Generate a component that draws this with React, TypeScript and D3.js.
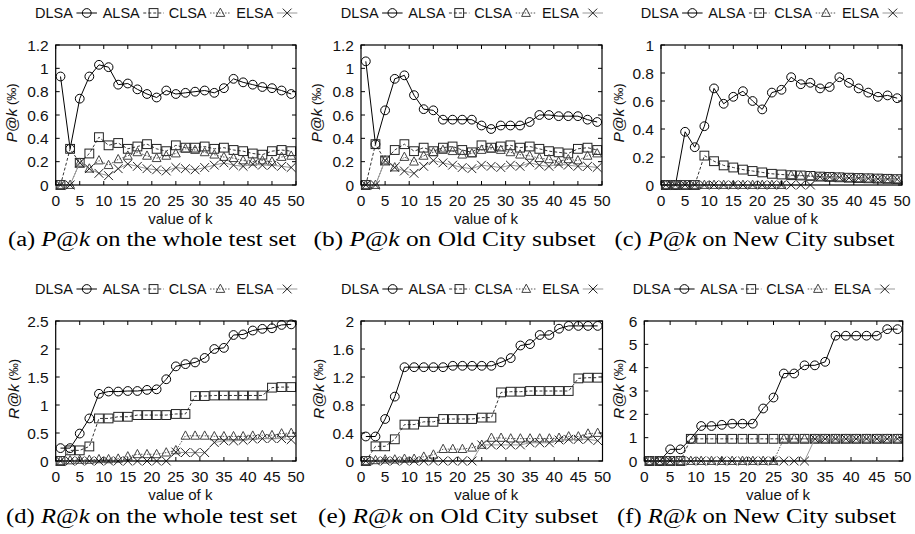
import React from "react";
import * as d3 from "d3";

// ---------- data ----------
const kValues = [1, 3, 5, 7, 9, 11, 13, 15, 17, 19, 21, 23, 25, 27, 29, 31, 33, 35, 37, 39, 41, 43, 45, 47, 49];
const methods = ["DLSA", "ALSA", "CLSA", "ELSA"];
const xTicks = [0, 5, 10, 15, 20, 25, 30, 35, 40, 45, 50];

// (a) P@k whole test set
const pWholeDLSA = [0.93, 0.31, 0.74, 0.93, 1.03, 1.01, 0.86, 0.87, 0.82, 0.78, 0.75, 0.81, 0.78, 0.79, 0.80, 0.81, 0.79, 0.83, 0.91, 0.88, 0.86, 0.84, 0.83, 0.81, 0.78];
const pWholeALSA = [0, 0.31, 0.19, 0.27, 0.41, 0.34, 0.36, 0.31, 0.33, 0.35, 0.31, 0.29, 0.34, 0.32, 0.32, 0.33, 0.31, 0.32, 0.30, 0.29, 0.27, 0.26, 0.29, 0.30, 0.29];
const pWholeCLSA = [0, 0, 0.19, 0.14, 0.21, 0.17, 0.22, 0.25, 0.28, 0.25, 0.23, 0.25, 0.27, 0.31, 0.30, 0.28, 0.26, 0.24, 0.23, 0.21, 0.20, 0.21, 0.20, 0.24, 0.25];
const pWholeELSA = [0, 0, 0.19, 0.14, 0.10, 0.08, 0.14, 0.18, 0.16, 0.14, 0.13, 0.12, 0.15, 0.14, 0.13, 0.15, 0.17, 0.19, 0.17, 0.16, 0.18, 0.17, 0.17, 0.16, 0.15];

// (b) P@k Old City
const pOldDLSA = [1.06, 0.35, 0.64, 0.91, 0.94, 0.77, 0.65, 0.64, 0.56, 0.56, 0.56, 0.56, 0.51, 0.48, 0.51, 0.51, 0.51, 0.54, 0.60, 0.60, 0.59, 0.59, 0.59, 0.56, 0.54];
const pOldALSA = [0, 0.35, 0.21, 0.30, 0.35, 0.29, 0.32, 0.29, 0.32, 0.33, 0.30, 0.28, 0.34, 0.32, 0.33, 0.34, 0.32, 0.33, 0.31, 0.29, 0.28, 0.27, 0.31, 0.32, 0.30];
const pOldCLSA = [0, 0, 0.21, 0.15, 0.24, 0.20, 0.25, 0.28, 0.30, 0.29, 0.26, 0.27, 0.30, 0.31, 0.30, 0.28, 0.26, 0.25, 0.23, 0.22, 0.20, 0.22, 0.21, 0.25, 0.27];
const pOldELSA = [0, 0, 0.21, 0.15, 0.12, 0.10, 0.16, 0.21, 0.19, 0.17, 0.15, 0.14, 0.17, 0.16, 0.15, 0.17, 0.16, 0.19, 0.17, 0.16, 0.18, 0.17, 0.16, 0.16, 0.15];

// (c) P@k New City
const pNewDLSA = [0, 0, 0.38, 0.27, 0.42, 0.69, 0.58, 0.63, 0.67, 0.60, 0.54, 0.66, 0.68, 0.77, 0.72, 0.73, 0.69, 0.70, 0.77, 0.73, 0.69, 0.66, 0.63, 0.64, 0.62];
const pNewALSA = [0, 0, 0, 0, 0.21, 0.17, 0.14, 0.125, 0.11, 0.10, 0.09, 0.08, 0.075, 0.07, 0.068, 0.065, 0.06, 0.058, 0.055, 0.052, 0.05, 0.048, 0.046, 0.044, 0.042];
const pNewCLSA = [0, 0, 0, 0, 0, 0, 0, 0, 0, 0, 0, 0, 0, 0.07, 0.066, 0.062, 0.058, 0.056, 0.054, 0.05, 0.048, 0.046, 0.044, 0.042, 0.04];
const pNewELSA = [0, 0, 0, 0, 0, 0, 0, 0, 0, 0, 0, 0, 0, 0, 0, 0, 0.058, 0.056, 0.054, 0.05, 0.048, 0.046, 0.044, 0.042, 0.04];

// (d) R@k whole test set
const rWholeDLSA = [0.23, 0.23, 0.49, 0.76, 1.20, 1.24, 1.24, 1.25, 1.25, 1.27, 1.28, 1.46, 1.69, 1.73, 1.76, 1.84, 2.00, 2.02, 2.25, 2.26, 2.33, 2.36, 2.37, 2.43, 2.44];
const rWholeALSA = [0, 0.19, 0.19, 0.26, 0.76, 0.76, 0.79, 0.79, 0.82, 0.82, 0.82, 0.82, 0.84, 0.84, 1.16, 1.16, 1.17, 1.17, 1.17, 1.17, 1.17, 1.17, 1.31, 1.32, 1.32];
const rWholeCLSA = [0, 0.01, 0.02, 0.02, 0.03, 0.03, 0.04, 0.08, 0.12, 0.12, 0.12, 0.15, 0.19, 0.45, 0.45, 0.45, 0.44, 0.44, 0.44, 0.44, 0.45, 0.46, 0.46, 0.49, 0.50];
const rWholeELSA = [0, 0, 0, 0, 0, 0, 0, 0, 0, 0, 0, 0, 0.16, 0.15, 0.15, 0.15, 0.33, 0.36, 0.36, 0.37, 0.39, 0.40, 0.40, 0.40, 0.38];

// (e) R@k Old City
const rOldDLSA = [0.35, 0.35, 0.60, 0.92, 1.34, 1.34, 1.34, 1.34, 1.34, 1.36, 1.36, 1.36, 1.36, 1.36, 1.41, 1.47, 1.65, 1.67, 1.80, 1.80, 1.89, 1.93, 1.93, 1.93, 1.93];
const rOldALSA = [0, 0.21, 0.21, 0.31, 0.52, 0.52, 0.56, 0.56, 0.60, 0.60, 0.60, 0.60, 0.62, 0.62, 0.98, 0.99, 0.99, 1.00, 1.00, 1.00, 1.00, 1.00, 1.18, 1.19, 1.19];
const rOldCLSA = [0, 0.01, 0.02, 0.02, 0.03, 0.03, 0.06, 0.09, 0.17, 0.17, 0.17, 0.19, 0.23, 0.33, 0.33, 0.32, 0.32, 0.32, 0.32, 0.32, 0.33, 0.35, 0.35, 0.39, 0.40];
const rOldELSA = [0, 0, 0, 0, 0, 0, 0, 0, 0, 0, 0, 0, 0.23, 0.23, 0.23, 0.23, 0.23, 0.26, 0.26, 0.26, 0.30, 0.31, 0.31, 0.31, 0.29];

// (f) R@k New City
const rNewDLSA = [0, 0, 0.5, 0.5, 0.95, 1.5, 1.5, 1.55, 1.6, 1.6, 1.6, 2.25, 2.72, 3.75, 3.75, 4.1, 4.1, 4.25, 5.37, 5.37, 5.37, 5.37, 5.37, 5.65, 5.65];
const rNewALSA = [0, 0, 0, 0, 0.95, 0.95, 0.95, 0.95, 0.95, 0.95, 0.95, 0.95, 0.95, 0.95, 0.95, 0.95, 0.95, 0.95, 0.95, 0.95, 0.95, 0.95, 0.95, 0.95, 0.95];
const rNewCLSA = [0, 0, 0, 0, 0, 0, 0, 0, 0, 0, 0, 0, 0, 0.95, 0.95, 0.95, 0.95, 0.95, 0.95, 0.95, 0.95, 0.95, 0.95, 0.95, 0.95];
const rNewELSA = [0, 0, 0, 0, 0, 0, 0, 0, 0, 0, 0, 0, 0, 0, 0, 0, 0.95, 0.95, 0.95, 0.95, 0.95, 0.95, 0.95, 0.95, 0.95];

const yTicksA = [0, 0.2, 0.4, 0.6, 0.8, 1, 1.2];
const yTicksC = [0, 0.2, 0.4, 0.6, 0.8, 1];
const yTicksD = [0, 0.5, 1, 1.5, 2, 2.5];
const yTicksE = [0, 0.4, 0.8, 1.2, 1.6, 2];
const yTicksF = [0, 1, 2, 3, 4, 5, 6];

const captions = [
  { tag: "(a)", metric: "P", rest: " on the whole test set" },
  { tag: "(b)", metric: "P", rest: " on Old City subset" },
  { tag: "(c)", metric: "P", rest: " on New City subset" },
  { tag: "(d)", metric: "R", rest: " on the whole test set" },
  { tag: "(e)", metric: "R", rest: " on Old City subset" },
  { tag: "(f)", metric: "R", rest: " on New City subset" },
];

// ---------- layout / style ----------
const SANS = "'Liberation Sans', Arial, Helvetica, sans-serif";
const SERIF = "'Liberation Serif', 'Times New Roman', serif";

const panels = [
  { series: [pWholeDLSA, pWholeALSA, pWholeCLSA, pWholeELSA], yTicks: yTicksA, l: 55.7, r: 296, t: 45, b: 185, ylOff: 45, capX: 152, capY: 246, capW: 288 },
  { series: [pOldDLSA, pOldALSA, pOldCLSA, pOldELSA], yTicks: yTicksA, l: 361, r: 602, t: 45, b: 185, ylOff: 45, capX: 454.5, capY: 246, capW: 282 },
  { series: [pNewDLSA, pNewALSA, pNewCLSA, pNewELSA], yTicks: yTicksC, l: 661, r: 902, t: 45, b: 185, ylOff: 43, capX: 754.5, capY: 246, capW: 280 },
  { series: [rWholeDLSA, rWholeALSA, rWholeCLSA, rWholeELSA], yTicks: yTicksD, l: 55.7, r: 296, t: 321, b: 461, ylOff: 43, capX: 151.5, capY: 523, capW: 291 },
  { series: [rOldDLSA, rOldALSA, rOldCLSA, rOldELSA], yTicks: yTicksE, l: 361, r: 602.5, t: 321, b: 461, ylOff: 43, capX: 458, capY: 523, capW: 280 },
  { series: [rNewDLSA, rNewALSA, rNewCLSA, rNewELSA], yTicks: yTicksF, l: 644.3, r: 902.7, t: 321, b: 461, ylOff: 26, capX: 756.5, capY: 523, capW: 279 },
];

const styles = [
  { line: "#000", dash: "", marker: "circle", mstroke: "#000" },
  { line: "#333", dash: "3,2", marker: "square", mstroke: "#222" },
  { line: "#555", dash: "1.5,1.5", marker: "triangle", mstroke: "#444" },
  { line: "#999", dash: "", marker: "cross", mstroke: "#222" },
];

function Marker({ kind, x, y, stroke }: { kind: string; x: number; y: number; stroke: string }) {
  const s = 4.4;
  if (kind === "circle") return <circle cx={x} cy={y} r={s} fill="none" stroke={stroke} strokeWidth={1} />;
  if (kind === "square") return <rect x={x - s} y={y - s} width={2 * s} height={2 * s} fill="none" stroke={stroke} strokeWidth={1} />;
  if (kind === "triangle")
    return <path d={`M${x},${y - s - 0.5}L${x + s},${y + s - 1}L${x - s},${y + s - 1}Z`} fill="none" stroke={stroke} strokeWidth={1} />;
  return <path d={`M${x - s},${y - s}L${x + s},${y + s}M${x - s},${y + s}L${x + s},${y - s}`} fill="none" stroke={stroke} strokeWidth={1} />;
}

function Panel({ p, idx }: { p: any; idx: number }) {
  const yMax = p.yTicks[p.yTicks.length - 1];
  const x = d3.scaleLinear().domain([0, 50]).range([p.l, p.r]);
  const y = d3.scaleLinear().domain([0, yMax]).range([p.b, p.t]);
  const line = d3
    .line<number>()
    .x((_, i) => x(kValues[i]))
    .y((v) => y(v));
  const cx = (p.l + p.r) / 2;
  const cy = (p.t + p.b) / 2;
  const metric = captions[idx].metric;
  const tl = 4;

  // legend
  const legL = cx - 5.3 - 131;
  const legY = p.t - 32;

  return (
    <g>
      {/* legend */}
      {methods.map((m, i) => {
        const te = legL + 33.4 + 66.8 * i;
        const st = styles[i];
        return (
          <g key={m}>
            <text x={te} y={legY} textAnchor="end" dominantBaseline="central" fontFamily={SANS} fontSize={14.5} fill="#111">
              {m}
            </text>
            <line x1={te + 3.5} x2={te + 24} y1={legY} y2={legY} stroke={st.line} strokeWidth={1} strokeDasharray={st.dash} />
            <Marker kind={st.marker} x={te + 13.8} y={legY} stroke={st.mstroke} />
          </g>
        );
      })}

      {/* series */}
      {p.series.map((vals: number[], i: number) => {
        const st = styles[i];
        return (
          <g key={i}>
            <path d={line(vals) || ""} fill="none" stroke={st.line} strokeWidth={1} strokeDasharray={st.dash} />
            {vals.map((v, j) => (
              <Marker key={j} kind={st.marker} x={x(kValues[j])} y={y(v)} stroke={st.mstroke} />
            ))}
          </g>
        );
      })}

      {/* frame and ticks */}
      <rect x={p.l} y={p.t} width={p.r - p.l} height={p.b - p.t} fill="none" stroke="#000" strokeWidth={1.2} />
      {xTicks.map((t) => (
        <g key={"x" + t}>
          <line x1={x(t)} x2={x(t)} y1={p.b} y2={p.b - tl} stroke="#000" strokeWidth={1} />
          <line x1={x(t)} x2={x(t)} y1={p.t} y2={p.t + tl} stroke="#000" strokeWidth={1} />
          <text x={x(t)} y={p.b + 15} textAnchor="middle" dominantBaseline="central" fontFamily={SANS} fontSize={15.5} fill="#111">
            {t}
          </text>
        </g>
      ))}
      {p.yTicks.map((t: number) => (
        <g key={"y" + t}>
          <line x1={p.l} x2={p.l + tl} y1={y(t)} y2={y(t)} stroke="#000" strokeWidth={1} />
          <line x1={p.r} x2={p.r - tl} y1={y(t)} y2={y(t)} stroke="#000" strokeWidth={1} />
          <text x={p.l - 7} y={y(t)} textAnchor="end" dominantBaseline="central" fontFamily={SANS} fontSize={15.5} fill="#111">
            {String(t)}
          </text>
        </g>
      ))}

      {/* axis labels */}
      <text x={cx + 4.5} y={p.b + 33} textAnchor="middle" dominantBaseline="central" fontFamily={SANS} fontSize={15} fill="#111">
        value of k
      </text>
      <text
        transform={`translate(${p.l - p.ylOff},${cy - 2}) rotate(-90)`}
        textAnchor="middle"
        dominantBaseline="central"
        fontFamily={SANS}
        fontSize={15.5}
        fill="#111"
      >
        <tspan fontStyle="italic">{metric}@k</tspan>
        <tspan fontSize={13}> (‰)</tspan>
      </text>

      {/* caption */}
      <text
        x={p.capX}
        y={p.capY}
        textAnchor="middle"
        fontFamily={SERIF}
        fontSize={20.5}
        fill="#000"
        textLength={p.capW}
        lengthAdjust="spacingAndGlyphs"
      >
        {captions[idx].tag + " "}
        <tspan fontStyle="italic">{metric}</tspan>
        <tspan>@</tspan>
        <tspan fontStyle="italic">k</tspan>
        {captions[idx].rest}
      </text>
    </g>
  );
}

export default function App() {
  return (
    <svg
      width={915}
      height={534}
      viewBox="0 0 915 534"
      style={{ position: "absolute", left: 0, top: 0, background: "#fff" }}
    >
      <rect x={0} y={0} width={915} height={534} fill="#fff" />
      {panels.map((p, i) => (
        <Panel key={i} p={p} idx={i} />
      ))}
    </svg>
  );
}
